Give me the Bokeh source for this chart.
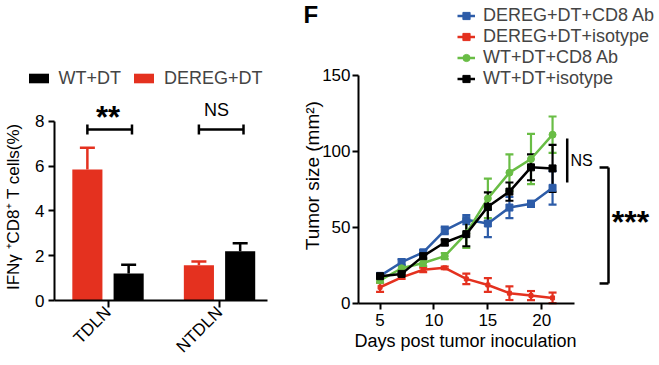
import math
from bokeh.plotting import figure
from bokeh.models import (Range1d, FixedTicker, ColumnDataSource, Whisker, TeeHead,
                          Legend, LegendItem)
from bokeh.layouts import row
from bokeh.embed import file_html
from bokeh.resources import INLINE
from bokeh.core.properties import value

# ---------------- data: left panel ----------------
categories = ["TDLN", "NTDLN"]
wt_dt = [1.2, 2.2]
wt_dt_err = [0.4, 0.36]
dereg_dt = [5.85, 1.57]
dereg_dt_err = [0.97, 0.17]

# ---------------- data: right panel ----------------
days = [5, 7, 9, 11, 13, 15, 17, 19, 21]
dereg_cd8 = [18, 27, 33.5, 48, 55, 52.5, 63, 65.5, 76]
dereg_cd8_err = [1.5, 2, 1.5, 2.5, 3, 9, 7, 2, 11]
dereg_iso = [10.5, 17, 22, 23.3, 16, 12, 6.6, 5, 3.5]
dereg_iso_err = [3, 1, 1.5, 0.8, 3.5, 4.5, 4.5, 3, 3.5]
wt_cd8 = [15, 23, 26.5, 31, 46, 69, 86, 95, 111]
wt_cd8_err = [1.5, 2, 2, 2, 9.5, 13, 12, 16.5, 12]
wt_iso = [17.8, 19.3, 31, 40, 45.5, 63.5, 73.5, 89.5, 88.8]
wt_iso_err = [1, 1, 1.5, 2, 8, 9.5, 6, 8.5, 15.5]

RED = "#e4311f"
BLUE = "#2d5ca8"
GREEN = "#69bd45"
BLACK = "#000000"
FONT = "Liberation Sans"


def style_axes(p):
    for ax in p.axis:
        ax.axis_line_width = 2
        ax.major_tick_line_width = 2
        ax.major_tick_in = 0
        ax.major_tick_out = 6
        ax.minor_tick_line_color = None
        ax.major_label_text_font = FONT
        ax.major_label_text_font_size = "17px"
        ax.major_label_text_color = "black"
    p.grid.visible = False
    p.outline_line_color = None
    p.min_border = 0
    p.min_border_left = 0
    p.min_border_right = 0
    p.min_border_top = 0
    p.min_border_bottom = 0


# ================= left panel =================
x_lo, x_hi = 0.520, 2.430
p1 = figure(width=300, height=365, x_range=Range1d(0.036, 2.726), y_range=Range1d(-2.900, 13.387),
            output_backend="svg", toolbar_location=None)
style_axes(p1)
p1.yaxis.fixed_location = x_lo
p1.xaxis.fixed_location = 0
p1.yaxis.ticker = FixedTicker(ticks=[0, 2, 4, 6, 8])
p1.yaxis.bounds = (0, 8)
p1.yaxis.major_label_standoff = 4
p1.xaxis.ticker = FixedTicker(ticks=list(range(1, len(categories) + 1)))
p1.xaxis.bounds = (x_lo, x_hi)
p1.xaxis.major_label_overrides = {i + 1: c for i, c in enumerate(categories)}
p1.xaxis.major_label_orientation = math.pi / 4
p1.xaxis.major_tick_out = 7
p1.xaxis.major_label_standoff = 2

off = 0.185
bw = 0.27
xs = list(range(1, len(categories) + 1))
src_red = ColumnDataSource(dict(x=[v - off for v in xs], top=dereg_dt,
                                up=[a + b for a, b in zip(dereg_dt, dereg_dt_err)]))
src_blk = ColumnDataSource(dict(x=[v + off for v in xs], top=wt_dt,
                                up=[a + b for a, b in zip(wt_dt, wt_dt_err)]))
r_red = p1.vbar(x="x", top="top", width=bw, source=src_red, fill_color=RED, line_color=None)
r_blk = p1.vbar(x="x", top="top", width=bw, source=src_blk, fill_color=BLACK, line_color=None)
for src, col in ((src_red, RED), (src_blk, BLACK)):
    p1.add_layout(Whisker(base="x", lower="top", upper="up", source=src, dimension="height",
                          line_color=col, line_width=2.5, lower_head=None,
                          upper_head=TeeHead(size=15, line_color=col, line_width=2.5)))

# significance brackets
br_y = 7.63
br_h = 0.22
bx0 = [v - off for v in xs]
bx1 = [v + off + 0.03 for v in xs]
p1.segment(x0=bx0, y0=[br_y] * 2, x1=bx1, y1=[br_y] * 2, line_color="black", line_width=2.5)
p1.segment(x0=bx0 + bx1, y0=[br_y - br_h] * 4, x1=bx0 + bx1, y1=[br_y + br_h] * 4,
           line_color="black", line_width=2.5)
p1.text(x=[1.0], y=[8.15], text=["**"], text_font=value(FONT), text_font_style="bold",
        text_font_size="31px", text_align="center", text_baseline="middle")
p1.text(x=[1.973], y=[8.48], text=["NS"], text_font=value(FONT),
        text_font_size="18px", text_align="center", text_baseline="middle")
# y axis title
p1.text(x=[0.157], y=[4.19], text=["IFNγ \u207aCD8\u207a T cells(%)"], angle=math.pi / 2,
        text_font=value(FONT), text_font_size="17px", text_align="center", text_baseline="middle")

leg1 = Legend(items=[LegendItem(label="WT+DT", renderers=[r_blk]),
                     LegendItem(label="DEREG+DT", renderers=[r_red])],
              orientation="horizontal", location=(25.5, 276.5))
leg1.glyph_width = 25
leg1.glyph_height = 12
leg1.label_height = 20
leg1.label_standoff = 8
leg1.spacing = 10
leg1.padding = 0
leg1.margin = 0
leg1.border_line_color = None
leg1.background_fill_alpha = 0
leg1.label_text_font = FONT
leg1.label_text_font_size = "18px"
p1.add_layout(leg1)

# ================= right panel =================
p2 = figure(width=359, height=365, x_range=Range1d(-2.38, 30.92), y_range=Range1d(-41.04, 199.4),
            output_backend="svg", toolbar_location=None)
style_axes(p2)
p2.yaxis.fixed_location = 3
p2.xaxis.fixed_location = 0
p2.yaxis.ticker = FixedTicker(ticks=[0, 50, 100, 150])
p2.yaxis.bounds = (0, 150)
p2.yaxis.major_label_standoff = 2
p2.xaxis.ticker = FixedTicker(ticks=[5, 10, 15, 20])
p2.xaxis.bounds = (3, 23)
p2.xaxis.major_label_standoff = 5

series = [
    ("DEREG+DT+CD8 Ab", dereg_cd8, dereg_cd8_err, BLUE, "square", 7),
    ("DEREG+DT+isotype", dereg_iso, dereg_iso_err, RED, "square", 4),
    ("WT+DT+CD8 Ab", wt_cd8, wt_cd8_err, GREEN, "circle", 7),
    ("WT+DT+isotype", wt_iso, wt_iso_err, BLACK, "square", 7),
]
items = []
for name, ys, es, col, mk, sz in series:
    src = ColumnDataSource(dict(x=days, y=ys, lo=[a - b for a, b in zip(ys, es)],
                                hi=[a + b for a, b in zip(ys, es)]))
    p2.add_layout(Whisker(base="x", lower="lo", upper="hi", source=src, dimension="height",
                          line_color=col, line_width=2.2,
                          lower_head=TeeHead(size=8, line_color=col, line_width=2.2),
                          upper_head=TeeHead(size=8, line_color=col, line_width=2.2)))
    rl = p2.line("x", "y", source=src, line_color=col, line_width=2.5)
    rs = p2.scatter("x", "y", source=src, marker=mk, size=sz, fill_color=col, line_color=col)
    items.append(LegendItem(label=name, renderers=[rl, rs]))

leg2 = Legend(items=items, location=(157, 276))
leg2.glyph_width = 18
leg2.glyph_height = 19
leg2.label_height = 19
leg2.label_standoff = 8
leg2.spacing = -1
leg2.padding = 0
leg2.margin = 0
leg2.border_line_color = None
leg2.background_fill_alpha = 0
leg2.label_text_font = FONT
leg2.label_text_font_size = "18px"
p2.add_layout(leg2)

# axis titles
p2.text(x=[-1.27], y=[84], text=["Tumor size (mm\u00b2)"], angle=math.pi / 2,
        text_font=value(FONT), text_font_size="19px", text_align="center", text_baseline="middle")
p2.text(x=[12.93], y=[-25.2], text=["Days post tumor inoculation"],
        text_font=value(FONT), text_font_size="18px", text_align="center", text_baseline="middle")

# NS bracket
ns_x = 22.36
p2.segment(x0=[ns_x], y0=[79.5], x1=[ns_x], y1=[108.5], line_color="black", line_width=2.5)
p2.text(x=[22.67], y=[94], text=["NS"], text_font=value(FONT), text_font_size="16px",
        text_align="left", text_baseline="middle")
# *** bracket
sx0, sx1 = 25.36, 26.19
p2.segment(x0=[sx1, sx0, sx0], y0=[13, 89.4, 13], x1=[sx1, sx1, sx1], y1=[89.4, 89.4, 13],
           line_color="black", line_width=2.5)
p2.text(x=[26.5], y=[53.8], text=["***"], text_font=value(FONT), text_font_style="bold",
        text_font_size="32px", text_align="left", text_baseline="middle")

# panel letter
p2.text(x=[-2.1], y=[199.4], text=["F"], text_font=value(FONT), text_font_style="bold",
        text_font_size="24px", text_align="left", text_baseline="top")

layout = row(p1, p2)
open("out.html", "w").write(file_html(layout, INLINE))
